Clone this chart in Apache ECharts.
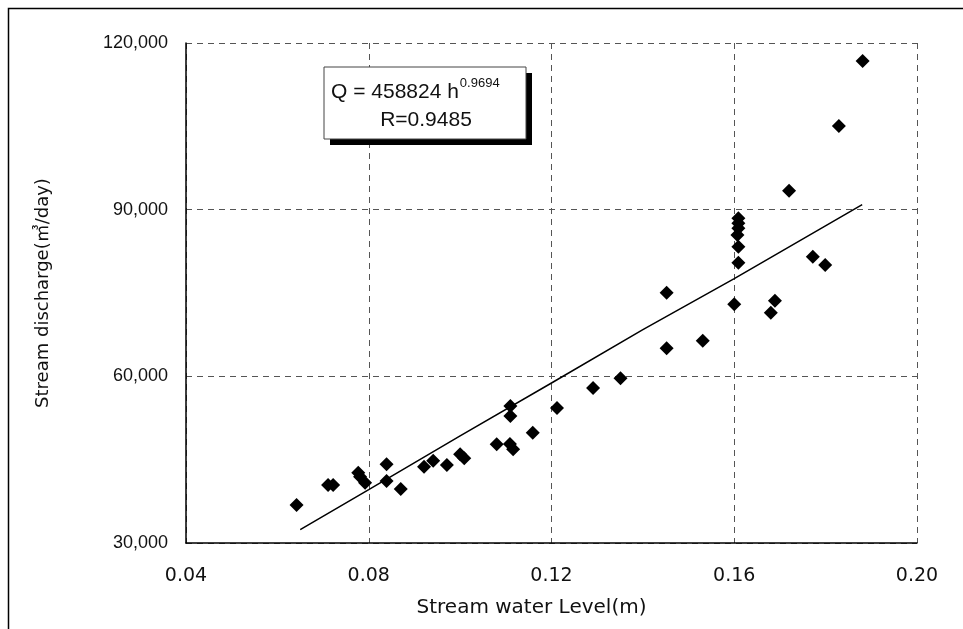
<!DOCTYPE html>
<html><head><meta charset="utf-8">
<script src="https://cdn.jsdelivr.net/npm/echarts@6/dist/echarts.min.js"></script>
<style>html,body{margin:0;padding:0;background:#fff}#c{width:963px;height:629px}</style>
</head><body><div id="c"></div>
<script>
var levels = [0.0642,0.0711,0.0722,0.0777,0.0781,0.0792,0.0839,0.0839,0.0870,0.0921,0.0941,0.0971,0.1000,0.1009,0.1080,0.1109,0.1116,0.1110,0.1110,0.1159,0.1212,0.1291,0.1351,0.1452,0.1452,0.1531,0.1600,0.1609,0.1609,0.1607,0.1609,0.1609,0.1609,0.1680,0.1689,0.1720,0.1772,0.1799,0.1829,0.1881];
var discharges = [36840,40440,40440,42650,41940,40860,44160,41160,39720,43740,44810,44040,45960,45240,47770,47820,46870,52860,54660,49860,54300,57900,59640,65040,75060,66410,72970,80450,83330,85440,86650,87550,88450,71460,73610,93410,81530,80040,105060,116760];
var trendLevels = [0.065, 0.080, 0.100, 0.120, 0.140, 0.160, 0.188];
var trendQ = [32400, 39600, 49300, 58800, 68400, 77600, 90900];
var xTicks = ['0.04','0.08','0.12','0.16','0.20'];
var yTicks = ['30,000','60,000','90,000','120,000'];
var eqMain = 'Q = 458824 h', eqExp = '0.9694', eqR = 'R=0.9485';

var pts = levels.map(function(v,i){return [v, discharges[i]];});
var trend = trendLevels.map(function(v,i){return [v, trendQ[i]];});
var FONT = '"Liberation Sans", Arial, "Noto Sans CJK KR", sans-serif';
var FONT2 = '"DejaVu Sans", "Noto Sans CJK KR", sans-serif';

var cv = document.createElement('canvas').getContext('2d');
cv.font = '21px "Liberation Sans"';
var mainW = cv.measureText(eqMain).width;

var chart = echarts.init(document.getElementById('c'));
chart.setOption({
  animation:false,
  backgroundColor:'#fff',
  grid:{left:186, top:43, right:46, bottom:86},
  xAxis:{type:'value', min:0.04, max:0.20, interval:0.04,
    name:'Stream water Level(m)', nameLocation:'middle', nameGap:55,
    nameTextStyle:{fontFamily:FONT2, fontSize:20, color:'#111', padding:[0,40,0,0]},
    axisLine:{show:true, onZero:false, lineStyle:{color:'#000', width:1.5}},
    axisTick:{show:false},
    axisLabel:{margin:24, fontFamily:FONT2, fontSize:19, color:'#111',
      formatter:function(v){var i=Math.round((v-0.04)/0.04);return xTicks[i];}},
    splitLine:{show:true, lineStyle:{color:'#555', type:[6,5], width:1}}
  },
  yAxis:{type:'value', min:30000, max:120000, interval:30000,
    name:'Stream discharge(㎥/day)', nameLocation:'middle', nameGap:134,
    nameTextStyle:{fontFamily:FONT2, fontSize:18, color:'#111'},
    axisLine:{show:true, onZero:false, lineStyle:{color:'#000', width:1.5}},
    axisTick:{show:false},
    axisLabel:{margin:18, fontFamily:FONT, fontSize:18, color:'#111',
      formatter:function(v){var i=Math.round((v-30000)/30000);return yTicks[i];}},
    splitLine:{show:true, lineStyle:{color:'#555', type:[6,5], width:1}}
  },
  series:[
    {type:'line', data:trend, showSymbol:false, symbol:'none', smooth:false,
      lineStyle:{color:'#000', width:1.5}, z:2},
    {type:'scatter', data:pts, symbol:'diamond', symbolSize:14,
      itemStyle:{color:'#000', opacity:1}, z:3}
  ],
  graphic:[
    {type:'rect', left:6, top:6, shape:{width:1200, height:1200},
      style:{fill:'none', stroke:'#000', lineWidth:1.5}, silent:true},
    {type:'rect', shape:{x:330, y:73, width:202, height:72}, style:{fill:'#000'}, z:10},
    {type:'rect', shape:{x:324, y:67, width:202, height:72}, style:{fill:'#fff', stroke:'#444', lineWidth:1}, z:11},
    {type:'text', x:331, y:92, z:12, style:{text:eqMain, fontFamily:FONT, fontSize:21, fill:'#111', textVerticalAlign:'middle'}},
    {type:'text', x:331+mainW+1, y:83, z:12, style:{text:eqExp, fontFamily:FONT, fontSize:13, fill:'#111', textVerticalAlign:'middle'}},
    {type:'text', x:426, y:120, z:12, style:{text:eqR, fontFamily:FONT, fontSize:21, fill:'#111', textAlign:'center', textVerticalAlign:'middle'}}
  ]
});
</script></body></html>
